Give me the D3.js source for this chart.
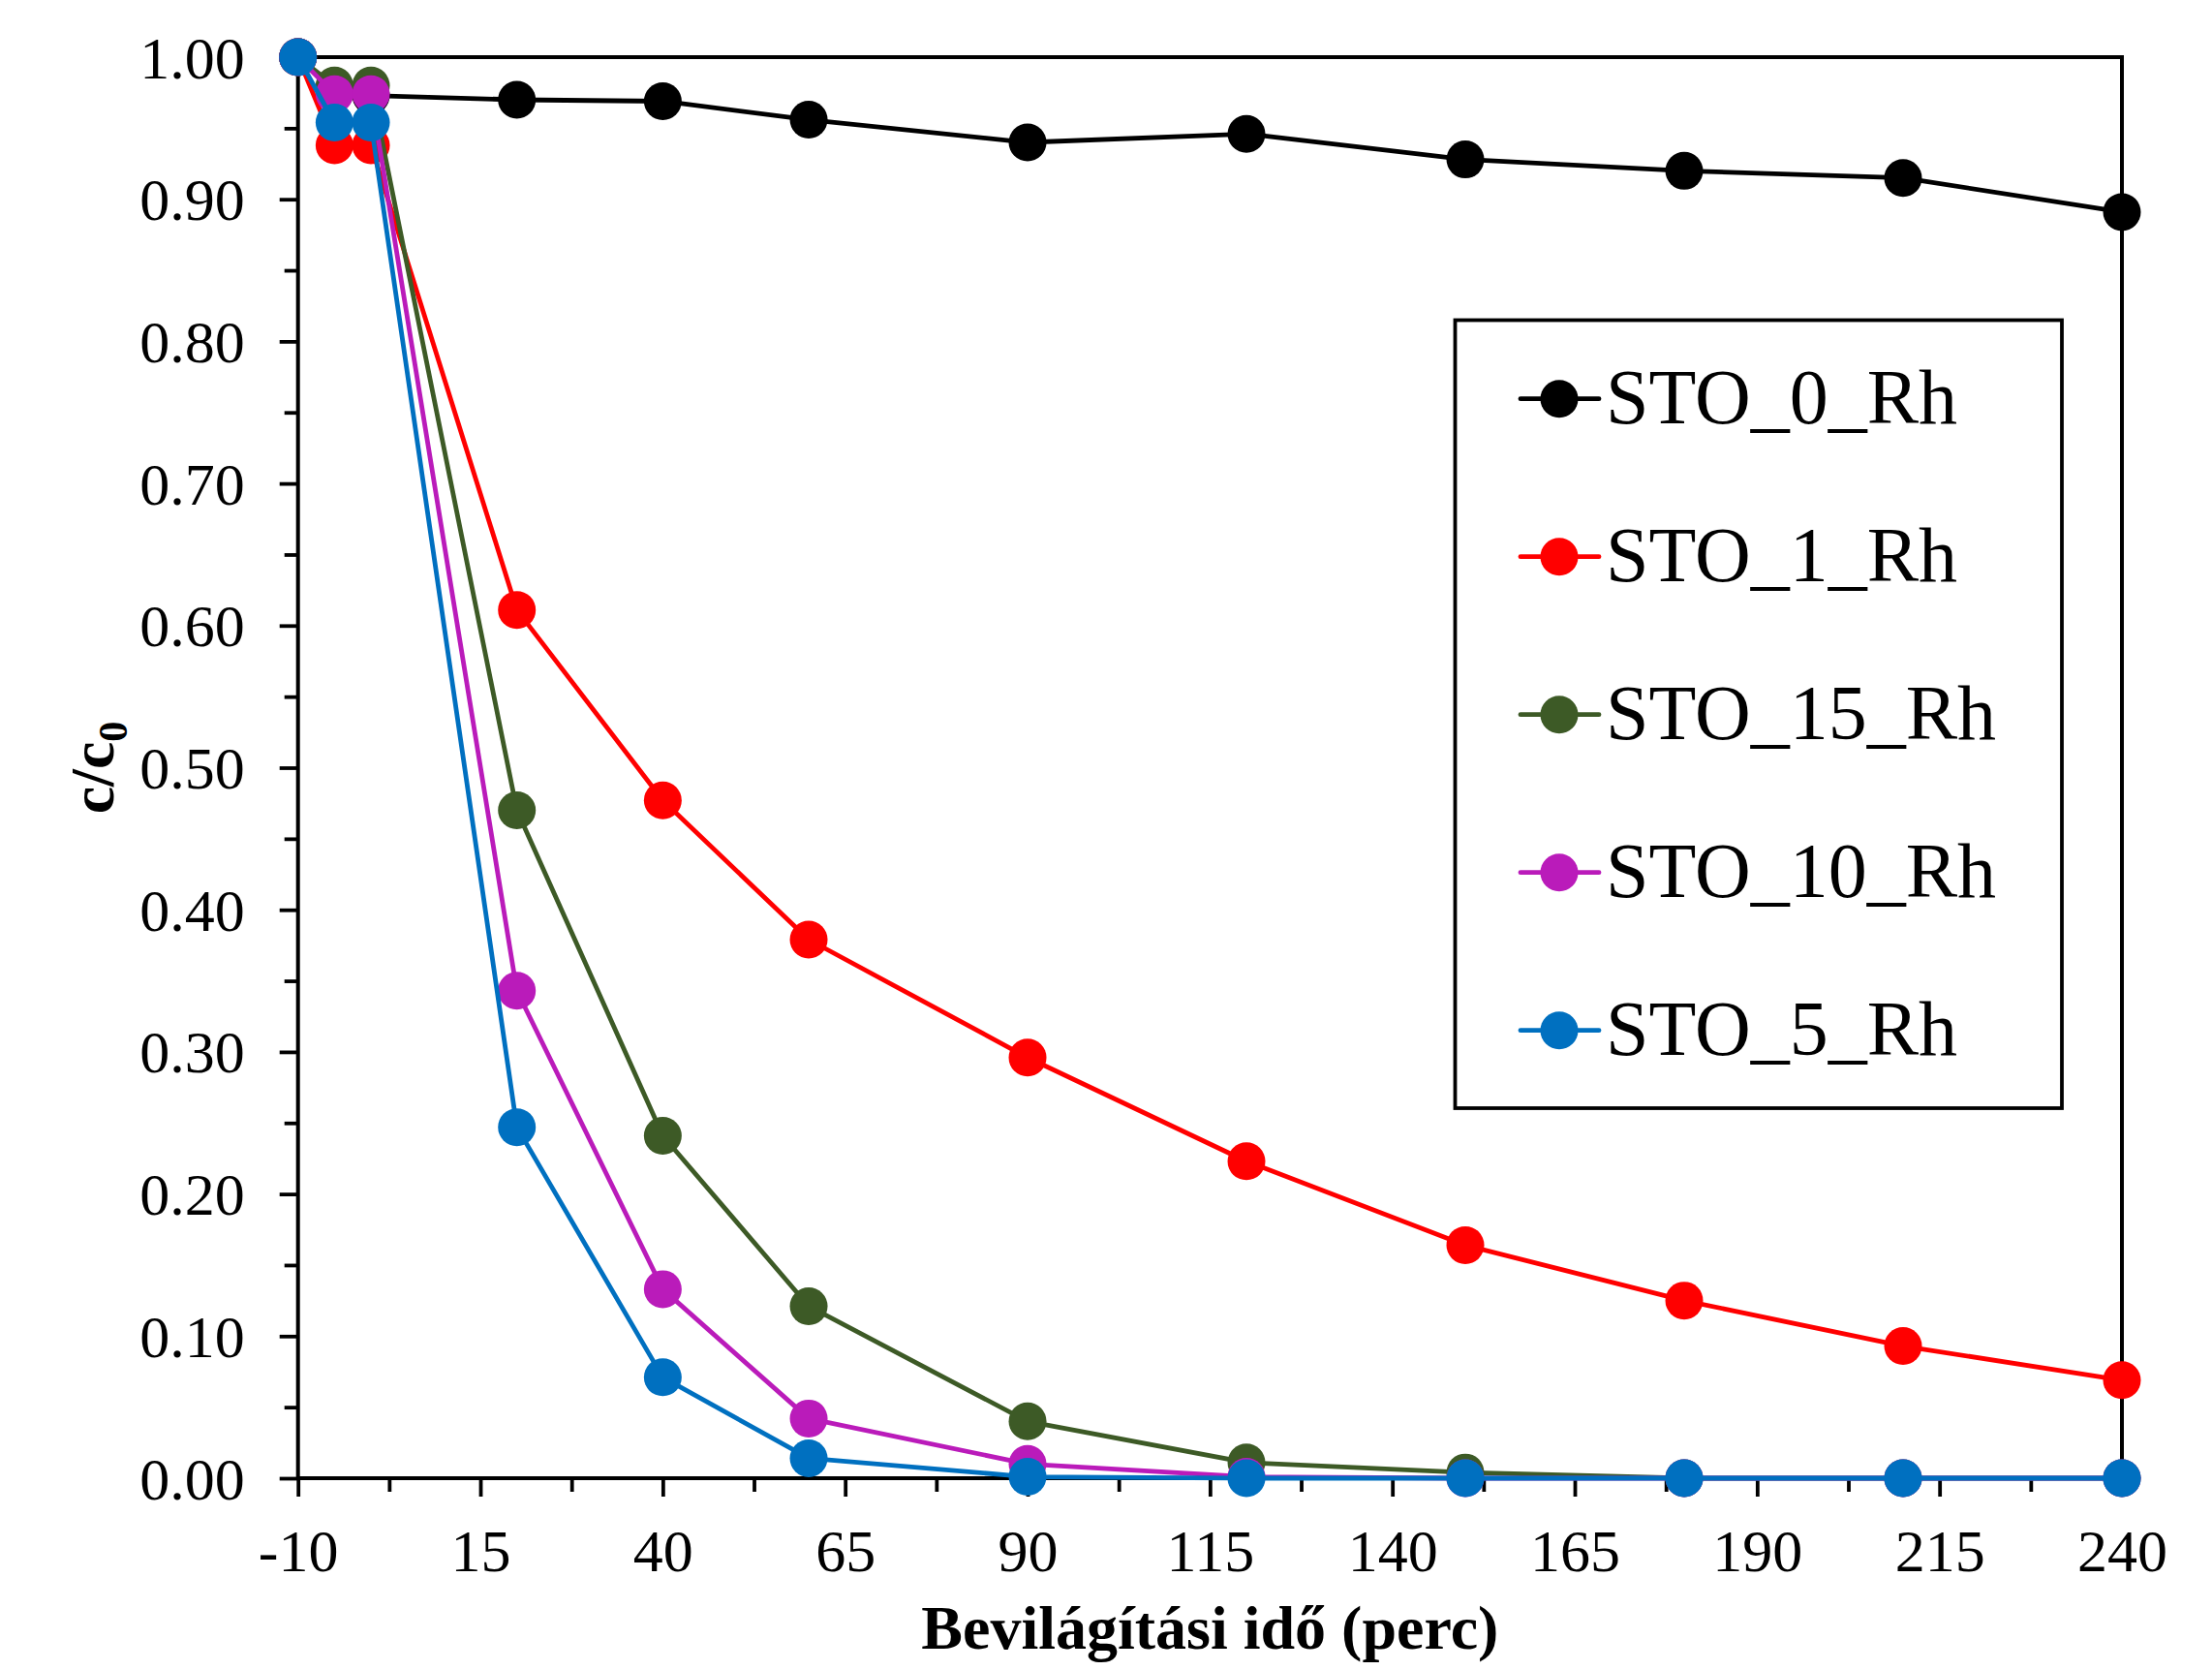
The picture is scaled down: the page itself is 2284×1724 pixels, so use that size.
<!DOCTYPE html>
<html>
<head>
<meta charset="utf-8">
<script src="https://cdn.jsdelivr.net/npm/d3@7"></script>
<style>
  html, body { margin: 0; padding: 0; background: #fff; }
  text { font-family: "Liberation Serif", "Times New Roman", serif; }
</style>
</head>
<body>
<svg id="chart" width="2284" height="1724"></svg>
<script>
// ---- data ----
const times = [-10, -5, 0, 20, 40, 60, 90, 120, 150, 180, 210, 240];
const seriesNames = ["STO_0_Rh", "STO_1_Rh", "STO_15_Rh", "STO_10_Rh", "STO_5_Rh"];
const seriesColors = ["#000000", "#FF0000", "#3D5A26", "#BA1BBA", "#0070C0"];
const sto0 = [1.000, 0.975, 0.973, 0.970, 0.969, 0.956, 0.940, 0.946, 0.928, 0.920, 0.915, 0.891];
const sto1 = [1.000, 0.938, 0.938, 0.611, 0.477, 0.379, 0.296, 0.223, 0.164, 0.125, 0.093, 0.069];
const sto15 = [1.000, 0.980, 0.980, 0.470, 0.241, 0.121, 0.040, 0.011, 0.004, 0.000, 0.000, 0.000];
const sto10 = [1.000, 0.974, 0.974, 0.343, 0.133, 0.042, 0.010, 0.001, 0.000, 0.000, 0.000, 0.000];
const sto5 = [1.000, 0.954, 0.954, 0.247, 0.071, 0.014, 0.001, 0.000, 0.000, 0.000, 0.000, 0.000];
const seriesValues = [sto0, sto1, sto15, sto10, sto5];
const xMajorTicks = [-10, 15, 40, 65, 90, 115, 140, 165, 190, 215, 240];
const xMinorTicks = [2.5, 27.5, 52.5, 77.5, 102.5, 127.5, 152.5, 177.5, 202.5, 227.5];
const yMajorTicks = [0, 0.1, 0.2, 0.3, 0.4, 0.5, 0.6, 0.7, 0.8, 0.9, 1.0];
const yMinorTicks = [0.05, 0.15, 0.25, 0.35, 0.45, 0.55, 0.65, 0.75, 0.85, 0.95];
const xTitle = "Bevilágítási idő (perc)";

// ---- layout ----
const L = 307.7, R = 2191, T = 59, B = 1526;
const svg = d3.select("#chart");
const x = d3.scaleLinear().domain([-10, 240]).range([L, R]);
const y = d3.scaleLinear().domain([0, 1]).range([B, T]);

// minor ticks
const xMinor = svg.append("g").attr("transform", `translate(0,${B})`)
  .call(d3.axisBottom(x).tickValues(xMinorTicks).tickSizeInner(14).tickSizeOuter(0).tickFormat(""));
const yMinor = svg.append("g").attr("transform", `translate(${L},0)`)
  .call(d3.axisLeft(y).tickValues(yMinorTicks).tickSizeInner(14).tickSizeOuter(0).tickFormat(""));
// major ticks
const xAxis = svg.append("g").attr("transform", `translate(0,${B})`)
  .call(d3.axisBottom(x).tickValues(xMajorTicks).tickSizeInner(19).tickSizeOuter(0)
    .tickFormat(d => String(d)));
const yAxis = svg.append("g").attr("transform", `translate(${L},0)`)
  .call(d3.axisLeft(y).tickValues(yMajorTicks).tickSizeInner(19).tickSizeOuter(0)
    .tickFormat(d => d.toFixed(2)));
[xMinor, yMinor, xAxis, yAxis].forEach(g => {
  g.select(".domain").remove();
  g.selectAll(".tick line").attr("stroke", "#000").attr("stroke-width", 3.8);
});
xAxis.selectAll(".tick text").attr("font-size", 62).attr("fill", "#000")
  .attr("dy", null).attr("y", 96);
yAxis.selectAll(".tick text").attr("font-size", 62).attr("fill", "#000")
  .attr("x", -55).attr("dy", "0.34em");

// frame
svg.append("rect").attr("x", L).attr("y", T).attr("width", R - L).attr("height", B - T)
  .attr("fill", "none").attr("stroke", "#000").attr("stroke-width", 4);

// series
const line = d3.line().x((d, i) => x(times[i])).y(d => y(d));
seriesValues.forEach((vals, si) => {
  const g = svg.append("g");
  g.append("path").datum(vals).attr("d", line)
    .attr("fill", "none").attr("stroke", seriesColors[si]).attr("stroke-width", 4.8)
    .attr("stroke-linejoin", "round");
  g.selectAll("circle").data(vals).enter().append("circle")
    .attr("cx", (d, i) => x(times[i])).attr("cy", d => y(d)).attr("r", 19.5)
    .attr("fill", seriesColors[si]);
});

// legend
const lg = svg.append("g");
lg.append("rect").attr("x", 1502.5).attr("y", 330.5).attr("width", 2129 - 1502.5).attr("height", 1144 - 330.5)
  .attr("fill", "#fff").attr("stroke", "#000").attr("stroke-width", 3.8);
seriesNames.forEach((name, i) => {
  const cy = 411.7 + i * 163;
  lg.append("line").attr("x1", 1570).attr("x2", 1651).attr("y1", cy).attr("y2", cy)
    .attr("stroke", seriesColors[i]).attr("stroke-width", 4.8).attr("stroke-linecap", "round");
  lg.append("circle").attr("cx", 1610).attr("cy", cy).attr("r", 19.5).attr("fill", seriesColors[i]);
  lg.append("text").attr("x", 1658).attr("y", cy + 25).attr("font-size", 80).attr("fill", "#000").text(name);
});

// axis titles
svg.append("text").attr("x", (L + R) / 2).attr("y", 1702).attr("text-anchor", "middle")
  .attr("font-size", 64).attr("font-weight", "bold").text(xTitle);
const yt = svg.append("text").attr("transform", `translate(117,${(T + B) / 2}) rotate(-90)`)
  .attr("text-anchor", "middle").attr("font-size", 64).attr("font-weight", "bold");
yt.append("tspan").text("c/c");
yt.append("tspan").attr("font-size", 42).attr("dy", 14).text("0");
</script>
</body>
</html>
